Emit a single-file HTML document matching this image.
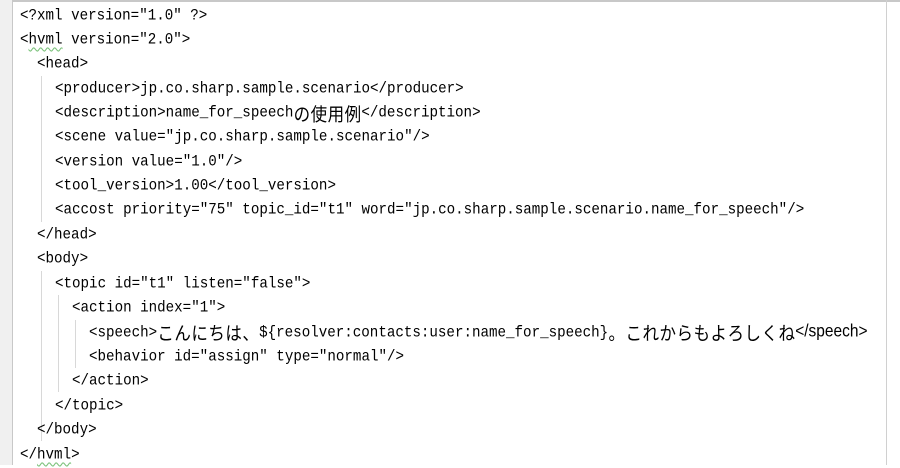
<!DOCTYPE html>
<html><head><meta charset="utf-8"><style>
html,body{margin:0;padding:0;}
body{width:900px;height:465px;background:#fff;position:relative;overflow:hidden;font-family:"Liberation Mono","Noto Sans CJK JP",monospace;font-size:14.2px;color:#000;}
.gut{position:absolute;left:0;top:0;width:12px;height:465px;background:#f0f0f0;border-right:1px solid #c8c8c8;}
.top{position:absolute;left:0;top:0;width:900px;height:2px;background:#c8c8c8;}
.rb{position:absolute;left:886px;top:0;width:1px;height:465px;background:#d0d0d0;}
.l{position:absolute;height:24px;line-height:24px;white-space:pre;transform:scaleY(1.12);transform-origin:0 50%;}
.j{font-size:16.5px;font-family:"Noto Sans CJK JP",sans-serif;display:inline-block;width:17px;text-align:center;line-height:24px;vertical-align:top;}
.g{position:absolute;width:1px;background:#d8d8d8;}
.sq{text-decoration:underline wavy #7bc27b;text-decoration-thickness:1px;text-underline-offset:3px;}
</style></head><body>
<div class="top"></div><div class="gut"></div><div class="rb"></div>
<div class="g" style="left:41px;top:76px;height:146px"></div>
<div class="g" style="left:41px;top:271px;height:170px"></div>
<div class="g" style="left:58px;top:295px;height:97px"></div>
<div class="g" style="left:75px;top:320px;height:48px"></div>
<div class="l" style="left:20px;top:4px">&lt;?xml version="1.0" ?&gt;</div>
<div class="l" style="left:20px;top:28px">&lt;<span class="sq">hvml</span> version="2.0"&gt;</div>
<div class="l" style="left:37px;top:52px">&lt;head&gt;</div>
<div class="l" style="left:55px;top:77px">&lt;producer&gt;jp.co.sharp.sample.scenario&lt;/producer&gt;</div>
<div class="l" style="left:55px;top:101px">&lt;description&gt;name_for_speech<span class="j">の</span><span class="j">使</span><span class="j">用</span><span class="j">例</span>&lt;/description&gt;</div>
<div class="l" style="left:55px;top:125px">&lt;scene value="jp.co.sharp.sample.scenario"/&gt;</div>
<div class="l" style="left:55px;top:150px">&lt;version value="1.0"/&gt;</div>
<div class="l" style="left:55px;top:174px">&lt;tool_version&gt;1.00&lt;/tool_version&gt;</div>
<div class="l" style="left:55px;top:198px">&lt;accost priority="75" topic_id="t1" word="jp.co.sharp.sample.scenario.name_for_speech"/&gt;</div>
<div class="l" style="left:37px;top:223px">&lt;/head&gt;</div>
<div class="l" style="left:37px;top:247px">&lt;body&gt;</div>
<div class="l" style="left:55px;top:272px">&lt;topic id="t1" listen="false"&gt;</div>
<div class="l" style="left:72px;top:296px">&lt;action index="1"&gt;</div>
<div class="l" style="left:89px;top:320px;width:797px;overflow:hidden">&lt;speech&gt;<span class="j">こ</span><span class="j">ん</span><span class="j">に</span><span class="j">ち</span><span class="j">は</span><span class="j">、</span>${resolver:contacts:user:name_for_speech}<span class="j">。</span><span class="j">こ</span><span class="j">れ</span><span class="j">か</span><span class="j">ら</span><span class="j">も</span><span class="j">よ</span><span class="j">ろ</span><span class="j">し</span><span class="j">く</span><span class="j">ね</span><span style="font-family:'Liberation Sans',sans-serif;font-size:15.5px">&lt;/speech&gt;</span></div>
<div class="l" style="left:89px;top:345px">&lt;behavior id="assign" type="normal"/&gt;</div>
<div class="l" style="left:72px;top:369px">&lt;/action&gt;</div>
<div class="l" style="left:55px;top:394px">&lt;/topic&gt;</div>
<div class="l" style="left:37px;top:418px">&lt;/body&gt;</div>
<div class="l" style="left:20px;top:443px">&lt;/<span class="sq">hvml</span>&gt;</div>
</body></html>
